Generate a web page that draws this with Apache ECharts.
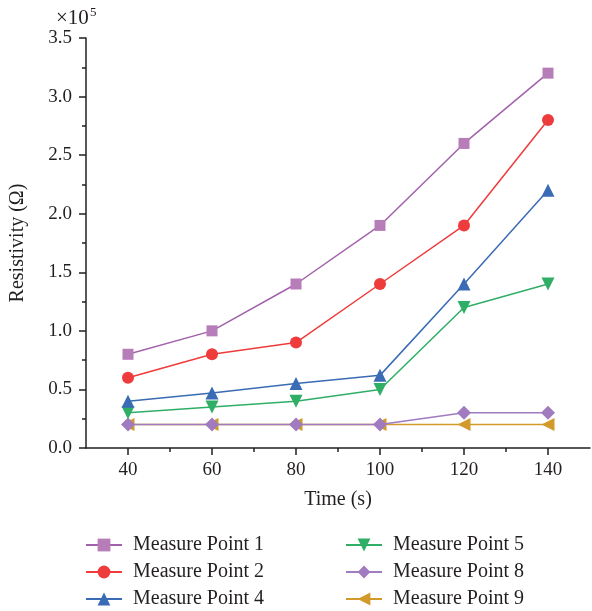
<!DOCTYPE html>
<html>
<head>
<meta charset="utf-8">
<script src="https://cdn.jsdelivr.net/npm/echarts@6/dist/echarts.min.js"></script>
<style>
  html, body { margin: 0; padding: 0; background: #fff; }
  #chart { width: 592px; height: 611px; }
</style>
</head>
<body>
<div id="chart"></div>
<script>
// time in seconds
let times = [40, 60, 80, 100, 120, 140];
let minorTimes = [50, 70, 90, 110, 130];

// resistivity values (Ohm)
let mp1 = [80000, 100000, 140000, 190000, 260000, 320000];
let mp2 = [60000, 80000, 90000, 140000, 190000, 280000];
let mp4 = [40000, 47000, 55000, 62000, 140000, 220000];
let mp5 = [30000, 35000, 40000, 50000, 120000, 140000];
let mp8 = [20000, 20000, 20000, 20000, 30000, 30000];
let mp9 = [20000, 20000, 20000, 20000, 20000, 20000];

let names = ["Measure Point 1", "Measure Point 2", "Measure Point 4",
             "Measure Point 5", "Measure Point 8", "Measure Point 9"];

const font = "'Liberation Serif', 'DejaVu Serif', serif";
const ink = "#231f20";

function pairs(vals) {
  return vals.map((v, i) => [times[i], v]);
}

// line colour, marker colour, symbol, rotation
let looks = [
  { line: "#a262ab", fill: "#b77db8", symbol: "rect", rot: 0, size: 11 },
  { line: "#ee3b3c", fill: "#ee3b3c", symbol: "circle", rot: 0, size: 12 },
  { line: "#3a6bb5", fill: "#3a6bb5", symbol: "triangle", rot: 0, size: 13 },
  { line: "#2fae66", fill: "#2fae66", symbol: "triangle", rot: 180, size: 13 },
  { line: "#a17bbf", fill: "#a17bbf", symbol: "diamond", rot: 0, size: 14 },
  { line: "#d29a2a", fill: "#d29a2a", symbol: "triangle", rot: 90, size: 13 },
];

let allData = [mp1, mp2, mp4, mp5, mp8, mp9];

let series = allData.map((d, i) => ({
  name: names[i],
  type: "line",
  data: pairs(d),
  symbol: looks[i].symbol,
  symbolSize: looks[i].size,
  symbolRotate: looks[i].rot,
  showAllSymbol: true,
  lineStyle: { color: looks[i].line, width: 1.5 },
  itemStyle: { color: looks[i].fill },
  z: 10 - i,
  animation: false,
}));

const myChart = echarts.init(document.getElementById("chart"), null, { renderer: "canvas" });

let legendCommon = {
  orient: "vertical",
  padding: 0,
  itemWidth: 36,
  itemHeight: 16,
  itemGap: 7,
  textStyle: { fontFamily: font, fontSize: 20, lineHeight: 20, color: ink, padding: [0, 0, 0, 6] },
};

let axisLineStyle = { color: ink, width: 1.5 };

let option = {
  backgroundColor: "#fff",
  textStyle: { fontFamily: font },
  grid: { left: 85, right: 2, top: 38, bottom: 163, containLabel: false },
  graphic: [
    {
      type: "text",
      left: 56,
      top: 8,
      style: { text: "×10", font: "21px " + font, fill: ink },
    },
    {
      type: "text",
      left: 90,
      top: 6,
      style: { text: "5", font: "13px " + font, fill: ink },
    },
  ],
  xAxis: [
    {
      type: "value",
      min: 30,
      max: 150,
      interval: 10,
      name: "Time (s)",
      nameLocation: "middle",
      nameGap: 42,
      nameTextStyle: { fontFamily: font, fontSize: 20, color: ink },
      axisLine: { show: true, onZero: false, lineStyle: axisLineStyle },
      axisTick: { show: true, inside: false, length: 7, customValues: times, lineStyle: axisLineStyle },
      axisLabel: { fontFamily: font, fontSize: 19, color: ink, margin: 13, customValues: times },
      splitLine: { show: false },
    },
    {
      // short ticks between the labelled ones
      type: "value",
      position: "bottom",
      min: 30,
      max: 150,
      interval: 10,
      axisLine: { show: false },
      axisTick: { show: true, inside: false, length: 4, customValues: minorTimes, lineStyle: axisLineStyle },
      axisLabel: { show: false },
      splitLine: { show: false },
    },
  ],
  yAxis: {
    type: "value",
    min: 0,
    max: 350000,
    interval: 50000,
    name: "Resistivity (Ω)",
    nameLocation: "middle",
    nameGap: 58,
    nameRotate: 90,
    nameTextStyle: { fontFamily: font, fontSize: 20, color: ink },
    axisLine: { show: true, lineStyle: axisLineStyle },
    axisTick: { show: true, inside: false, length: 7, lineStyle: axisLineStyle },
    minorTick: { show: true, splitNumber: 2, length: 4, lineStyle: axisLineStyle },
    axisLabel: {
      fontFamily: font, fontSize: 19, color: ink, margin: 14,
      formatter: (v) => (v / 100000).toFixed(1),
    },
    splitLine: { show: false },
    minorSplitLine: { show: false },
  },
  legend: [
    Object.assign({ left: 85, top: 535, data: names.slice(0, 3) }, legendCommon),
    Object.assign({ left: 345, top: 535, data: names.slice(3) }, legendCommon),
  ],
  series,
};

option && myChart.setOption(option);
</script>
</body>
</html>
